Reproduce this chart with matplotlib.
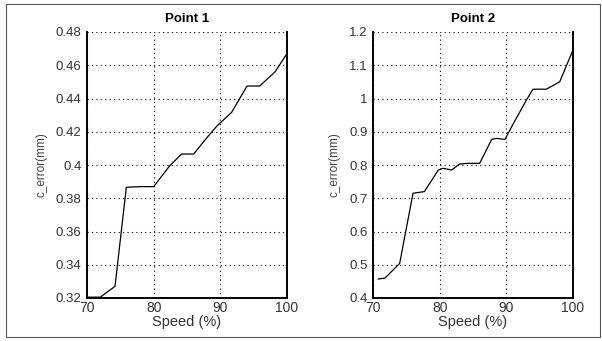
import matplotlib
matplotlib.use('Agg')
import matplotlib.pyplot as plt
from matplotlib.patches import Rectangle

plt.rcParams['font.family'] = ['Liberation Sans', 'DejaVu Sans']

# speed (%) and centre error (mm)
speed_p1 = [70, 72, 74.2, 75.9, 78, 80, 82.4, 84.2, 86, 88, 89.5, 91.7, 94, 95.9, 98.2, 100]
error_p1 = [0.3205, 0.3205, 0.327, 0.3866, 0.387, 0.387, 0.3995, 0.4066, 0.4066, 0.4165, 0.4235, 0.4317, 0.4475, 0.4475, 0.456, 0.467]

speed_p2 = [70.8, 71.8, 74, 76, 77.7, 79.8, 80.5, 81.8, 83, 84.3, 86, 87.8, 88.5, 89.8, 90.8, 93, 94, 96, 98, 100]
error_p2 = [0.457, 0.46, 0.504, 0.715, 0.72, 0.785, 0.79, 0.785, 0.803, 0.805, 0.805, 0.877, 0.88, 0.877, 0.915, 0.995, 1.028, 1.028, 1.05, 1.146]

titles = ['Point 1', 'Point 2']
ylims = [(0.32, 0.48), (0.4, 1.2)]
yticks = [[0.32, 0.34, 0.36, 0.38, 0.4, 0.42, 0.44, 0.46, 0.48],
          [0.4, 0.5, 0.6, 0.7, 0.8, 0.9, 1, 1.1, 1.2]]
xticks = [70, 80, 90, 100]

fig = plt.figure(figsize=(6.02, 3.41), dpi=100)

# scanned page frame
fig.patches.append(Rectangle((6 / 602, 4 / 341), 594 / 602, 333 / 341, transform=fig.transFigure,
                             fill=False, edgecolor='#555555', linewidth=0.8))

lefts = [87 / 602, 373 / 602]
data = [(speed_p1, error_p1), (speed_p2, error_p2)]

for i in range(2):
    ax = fig.add_axes([lefts[i], 1 - 298 / 341, 200 / 602, 266 / 341])
    x, y = data[i]
    ax.plot(x, y, color='black', linewidth=0.9)
    ax.set_xlim(70, 100)
    ax.set_ylim(*ylims[i])
    ax.set_xticks(xticks)
    ax.set_yticks(yticks[i])
    ax.set_yticklabels([('%g' % v) for v in yticks[i]])
    ax.grid(True, color='black', linestyle=(0, (1, 3)), linewidth=0.8)
    ax.tick_params(axis='y', labelsize=9.5, length=0, pad=4, colors='#333333')
    ax.tick_params(axis='x', labelsize=10, length=0, pad=2, colors='#333333')
    ax.set_title(titles[i], fontsize=9.5, fontweight='bold', pad=7)
    ax.set_xlabel('Speed (%)', fontsize=10.5, labelpad=0, color='#333333')
    ax.set_ylabel('c_error(mm)', fontsize=8.5, labelpad=6, color='#444444')
    ax.spines['top'].set_visible(False)
    for s in ['left', 'right', 'bottom']:
        ax.spines[s].set_linewidth(1.4)

fig.savefig('out.png', dpi=100)
